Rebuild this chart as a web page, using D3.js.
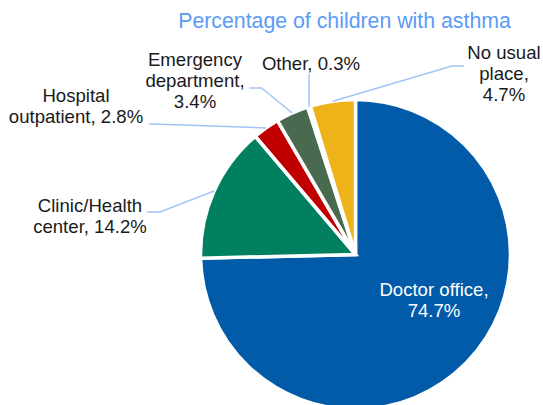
<!DOCTYPE html>
<html>
<head>
<meta charset="utf-8">
<script src="https://cdn.jsdelivr.net/npm/d3@7"></script>
<style>
  html, body { margin: 0; padding: 0; background: #fff; }
  svg { display: block; font-family: "Liberation Sans", Arial, sans-serif; }
</style>
</head>
<body>
<svg id="chart" width="543" height="405"></svg>
<script>
// ---- data ----
const title = "Percentage of children with asthma";
const categories = ["Doctor office", "Clinic/Health center", "Hospital outpatient", "Emergency department", "Other", "No usual place"];
const values = [74.7, 14.2, 2.8, 3.4, 0.3, 4.7];
const labelNameLines = [["Doctor office,"], ["Clinic/Health", "center,"], ["Hospital", "outpatient,"], ["Emergency", "department,"], ["Other,"], ["No usual", "place,"]];
// whether the value goes on its own line or on the last name line
const valueOnOwnLine = [true, false, false, true, false, true];

// ---- styles / layout ----
const colors = ["#015BA8", "#00805F", "#C00000", "#4A6A50", "#EEB318", "#EEB318"];
const cx = 355.5, cy = 254.5, R = 155;
const labelLayout = [
  { x: 434, y: 296, fill: "#fff", leader: null },
  { x: 90,  y: 212, fill: "#1a1a1a", leader: [[160, 212], [147, 212]] },
  { x: 76,  y: 102, fill: "#1a1a1a", leader: [[153, 124], [149, 124]] },
  { x: 195, y: 66,  fill: "#1a1a1a", leader: [[261.5, 88], [249.5, 88]] },
  { x: 311, y: 70,  fill: "#1a1a1a", leader: [[309, 74], [309, 74]] },
  { x: 504, y: 59,  fill: "#1a1a1a", leader: [[452, 66], [464, 66]] }
];
const lineH = 21;

const svg = d3.select("#chart");

svg.append("text")
  .attr("x", 344.5).attr("y", 28)
  .attr("text-anchor", "middle")
  .attr("font-size", 21.3)
  .attr("fill", "#5B9BF5")
  .text(title);

const pie = d3.pie().sort(null).value(d => d)(values);
const arc = d3.arc().innerRadius(0).outerRadius(R);
const edgeArc = d3.arc().innerRadius(R).outerRadius(R);

const g = svg.append("g").attr("transform", `translate(${cx},${cy})`);
g.selectAll("path.slice")
  .data(pie)
  .join("path")
  .attr("class", "slice")
  .attr("d", arc)
  .attr("fill", (d, i) => colors[i])
  .attr("stroke", "#fff")
  .attr("stroke-width", 3.5)
  .attr("stroke-linejoin", "miter");

// leader lines
pie.forEach((d, i) => {
  const L = labelLayout[i];
  if (!L.leader) return;
  const p = edgeArc.centroid(d);
  const pts = [[cx + p[0], cy + p[1]], L.leader[0], L.leader[1]];
  svg.append("path")
    .attr("d", d3.line()(pts))
    .attr("fill", "none")
    .attr("stroke", "#A3C4F5")
    .attr("stroke-width", 1.5);
});

// labels
pie.forEach((d, i) => {
  const L = labelLayout[i];
  const pct = values[i].toFixed(1) + "%";
  const lines = labelNameLines[i].slice();
  if (valueOnOwnLine[i]) lines.push(pct);
  else lines[lines.length - 1] = lines[lines.length - 1] + " " + pct;
  const t = svg.append("text")
    .attr("text-anchor", "middle")
    .attr("font-size", 18.6)
    .attr("fill", L.fill);
  lines.forEach((s, k) => {
    t.append("tspan").attr("x", L.x).attr("y", L.y + k * lineH).text(s);
  });
});
</script>
</body>
</html>
